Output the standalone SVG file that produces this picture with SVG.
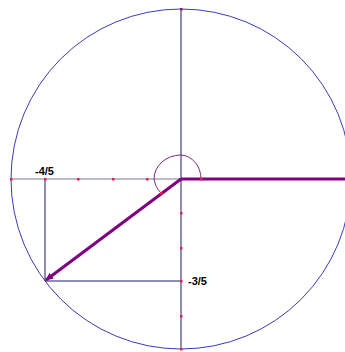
<svg xmlns="http://www.w3.org/2000/svg" width="345" height="352" viewBox="0 0 345 352">
<style>
.ax{stroke:#1a1a6e;stroke-width:1;fill:none}
.axg{stroke:#7a7a9a;stroke-width:1.2;fill:none}
.vec{stroke:#800080;stroke-width:3;fill:none}
.dot{fill:#e8204a}
.lbl{font-family:"Liberation Sans",Arial,sans-serif;font-size:11px;font-weight:bold;fill:#000}
</style>
<defs>
<marker id="ah" markerWidth="8" markerHeight="8" refX="7" refY="4" orient="auto" markerUnits="userSpaceOnUse">
<path d="M0,0.5 L8,4 L0,7.5 Z" fill="#800080"/>
</marker>
</defs>
<rect width="345" height="352" fill="#fff"/>
<g id="circle"><circle cx="181" cy="179" r="170" fill="none" stroke="#3a3ab8" stroke-width="1"/></g>
<g id="connectors">
<line class="axg" x1="11" y1="179" x2="181" y2="179"/>
<line class="ax" x1="181" y1="9" x2="181" y2="350"/>
<line class="ax" x1="45" y1="179" x2="45" y2="281"/>
<line class="ax" x1="45" y1="281" x2="181" y2="281"/>
<line class="vec" x1="181" y1="179" x2="345" y2="179"/>
<line class="vec" x1="181" y1="179" x2="46" y2="280" stroke-width="2.5" marker-end="url(#ah)"/>
<path d="M201,179 A21,24 0 0 0 181,155 A27,24 0 0 0 154,179 A27,26 0 0 0 161,193" fill="none" stroke="#7a2a7a" stroke-width="1"/>
</g>
<g id="ticks">
<rect class="dot" x="10" y="178" width="2.5" height="2.5"/>
<rect class="dot" x="44" y="178" width="2.5" height="2.5"/>
<rect class="dot" x="77" y="178" width="2.5" height="2.5"/>
<rect class="dot" x="112" y="178" width="2.5" height="2.5"/>
<rect class="dot" x="146" y="178" width="2.5" height="2.5"/>
<rect class="dot" x="200" y="178" width="2.5" height="2.5"/>
<rect class="dot" x="160" y="192" width="2.5" height="2.5"/>
<rect class="dot" x="180" y="212" width="2.5" height="2.5"/>
<rect class="dot" x="180" y="247" width="2.5" height="2.5"/>
<rect class="dot" x="180" y="280" width="2.5" height="2.5"/>
<rect class="dot" x="180" y="315" width="2.5" height="2.5"/>
<rect class="dot" x="180" y="348" width="2.5" height="2.5"/>
<rect x="180" y="8" width="2.5" height="2.5" fill="#80205a"/>
</g>
<g id="labels">
<text class="lbl" x="35" y="175">-4/5</text>
<text class="lbl" x="188" y="285">-3/5</text>
</g>
</svg>
